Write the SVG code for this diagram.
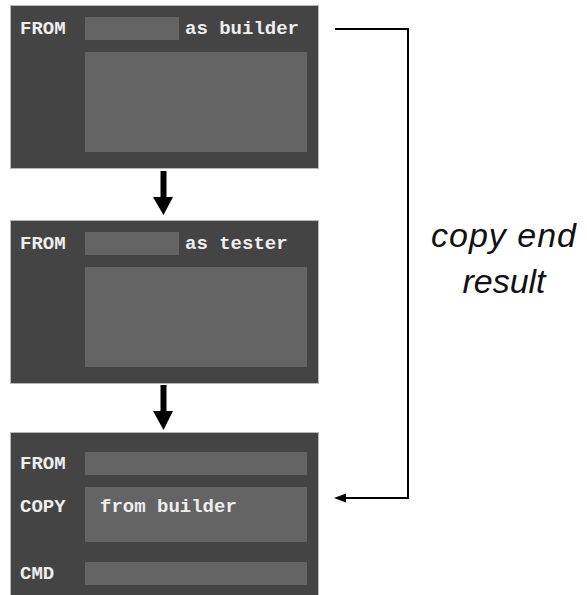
<svg xmlns="http://www.w3.org/2000/svg" width="587" height="595" viewBox="0 0 587 595">
<defs>
<style>
.box{fill:#444444;stroke:#b8b8b8;stroke-width:1}
.fld{fill:#646464}
.mono{font-family:"Liberation Mono","Courier New",monospace;font-weight:bold;font-size:19px;fill:#eeeeee}
.lbl{font-family:"Liberation Sans",Arial,sans-serif;font-style:italic;font-size:34px;fill:#111111}
.thick{stroke:#000;stroke-width:6;fill:none}
.thin{stroke:#000;stroke-width:2;fill:none}
</style>
</defs>
<rect width="587" height="595" fill="#ffffff"/>
<g id="builder">
<rect class="box" x="10.5" y="5.5" width="308" height="163"/>
<rect class="fld" x="85" y="17" width="94" height="23"/>
<rect class="fld" x="85" y="52" width="222" height="100"/>
<text class="mono" x="20" y="34">FROM</text>
<text class="mono" x="185" y="34">as builder</text>
</g>
<g id="tester">
<rect class="box" x="10.5" y="220.5" width="308" height="163"/>
<rect class="fld" x="85" y="232" width="94" height="23"/>
<rect class="fld" x="85" y="267" width="222" height="100"/>
<text class="mono" x="20" y="249">FROM</text>
<text class="mono" x="185" y="249">as tester</text>
</g>
<g id="final">
<rect class="box" x="10.5" y="432.5" width="308" height="170"/>
<rect class="fld" x="85" y="452" width="222" height="23"/>
<rect class="fld" x="85" y="487" width="222" height="55"/>
<rect class="fld" x="85" y="562" width="222" height="23"/>
<text class="mono" x="20" y="469">FROM</text>
<text class="mono" x="20" y="512">COPY</text>
<text class="mono" x="100" y="512">from builder</text>
<text class="mono" x="20" y="579">CMD</text>
</g>
<g id="connectors">
<line class="thick" x1="163.5" y1="171" x2="163.5" y2="198"/>
<path d="M153,197 L173,197 L163.5,215 Z" fill="#000"/>
<line class="thick" x1="163.5" y1="385" x2="163.5" y2="412"/>
<path d="M153,411 L173,411 L163.5,430 Z" fill="#000"/>
<path class="thin" d="M335,29 L408,29 L408,498 L344,498"/>
<path d="M334,498 L346,493.5 L346,502.5 Z" fill="#000"/>
</g>
<g id="label">
<text class="lbl" x="431" y="247" textLength="145" lengthAdjust="spacing">copy end</text>
<text class="lbl" x="504" y="293" text-anchor="middle">result</text>
</g>
</svg>
